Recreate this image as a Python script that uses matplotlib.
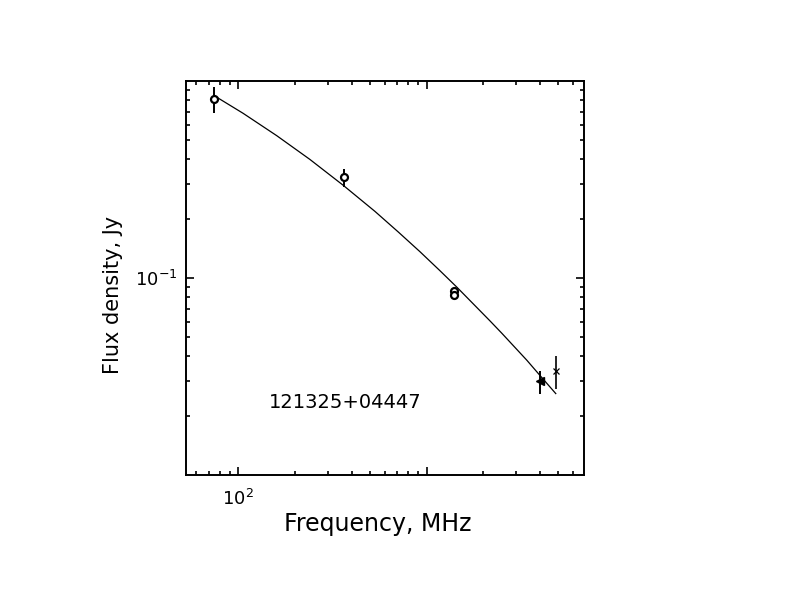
import matplotlib
matplotlib.use("Agg")
import matplotlib.pyplot as plt
from matplotlib.ticker import LogLocator, NullFormatter, FixedLocator, FixedFormatter

# ---- data ----
circ_freq = [74, 365, 1400, 1400]
circ_flux = [0.811, 0.324, 0.0856, 0.0817]
circ_err = [0.12, 0.035, 0.0, 0.0]

tri_freq = [4000]
tri_flux = [0.0299]
tri_err = [0.0040]

cross_freq = [4850]
cross_flux = [0.0339]
cross_err = [0.0065]

curve_freq = [74, 106, 160, 240, 361, 532, 708, 922, 1175, 1445, 2173, 2505, 3401, 4000, 4850]
curve_flux = [0.846, 0.686, 0.528, 0.400, 0.2954, 0.2178, 0.1711, 0.1360, 0.1091, 0.0900,
              0.0605, 0.0525, 0.0383, 0.0320, 0.0259]

xlim = (52.8, 6850)
ylim = (0.01, 1.0)
source_name = "121325+04447"
xlabel = "Frequency, MHz"
ylabel = "Flux density, Jy"

fig = plt.figure(figsize=(7.92, 6.12), dpi=100)
ax = fig.add_axes([186 / 792, 1 - 475 / 612, (584 - 186) / 792, (475 - 81) / 612])
ax.set_xscale("log")
ax.set_yscale("log")
ax.set_xlim(*xlim)
ax.set_ylim(*ylim)

ax.plot(curve_freq, curve_flux, color="black", lw=0.9)
ax.errorbar(circ_freq, circ_flux, yerr=circ_err, fmt="o", ms=5, mfc="white",
            mec="black", mew=1.6, ecolor="black", elinewidth=1.4, capsize=0)
ax.errorbar(tri_freq, tri_flux, yerr=tri_err, fmt="<", ms=6, mfc="black",
            mec="black", ecolor="black", elinewidth=1.4, capsize=0)
ax.errorbar(cross_freq, cross_flux, yerr=cross_err, fmt="x", ms=5, mew=0.9,
            color="black", ecolor="black", elinewidth=1.2, capsize=0)

for s in ax.spines.values():
    s.set_linewidth(1.4)

ax.xaxis.set_major_locator(FixedLocator([100, 1000]))
ax.xaxis.set_major_formatter(FixedFormatter([r"$\mathdefault{10^{2}}$", ""]))
ax.xaxis.set_minor_locator(LogLocator(base=10, subs=range(2, 10)))
ax.xaxis.set_minor_formatter(NullFormatter())
ax.yaxis.set_major_locator(FixedLocator([0.1]))
ax.yaxis.set_major_formatter(FixedFormatter([r"$\mathdefault{10^{-1}}$"]))
ax.yaxis.set_minor_locator(LogLocator(base=10, subs=range(2, 10)))
ax.yaxis.set_minor_formatter(NullFormatter())

ax.tick_params(which="both", direction="in", top=True, right=True, width=1.2,
               labelsize=13)
ax.tick_params(which="major", length=6)
ax.tick_params(which="minor", length=3)
ax.tick_params(axis="x", which="major", pad=10)
ax.tick_params(axis="y", which="major", pad=6)

ax.text((345 - 186) / 398, (475 - 402.7) / 394, source_name, transform=ax.transAxes,
        ha="center", va="center", fontsize=14)

fig.text(377.5 / 792, 1 - 531.3 / 612, xlabel, ha="center", va="baseline", fontsize=17)
fig.text(113 / 792, 1 - 295 / 612, ylabel, ha="center", va="center", rotation=90,
         fontsize=15)

fig.savefig("out.png", dpi=100)
